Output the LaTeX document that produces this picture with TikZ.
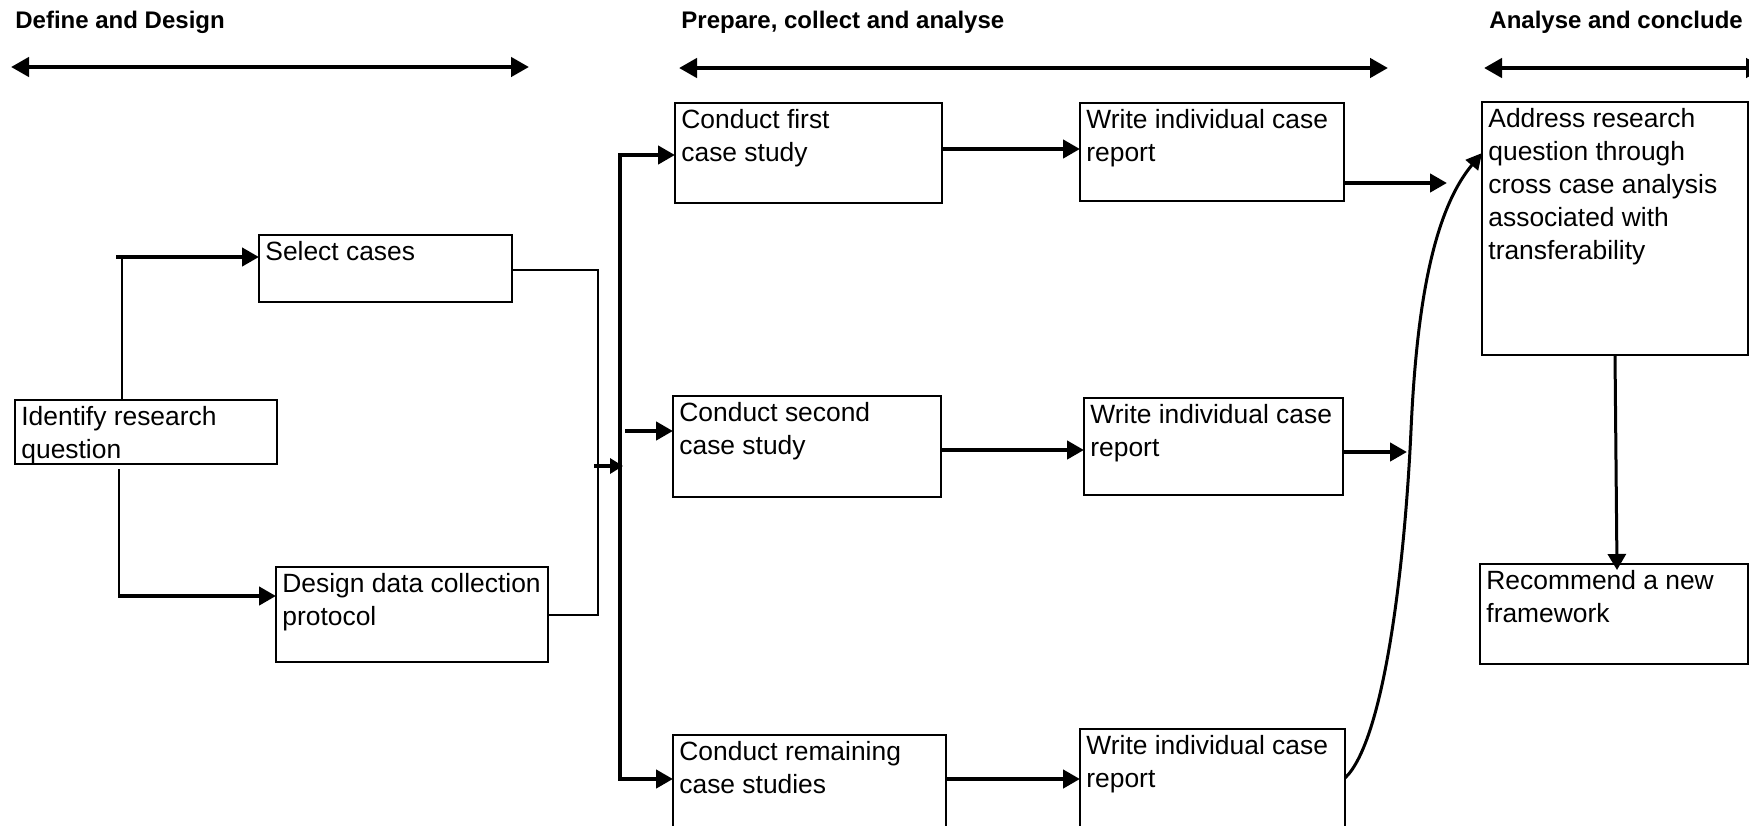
\documentclass[tikz,border=0pt]{standalone}
\usepackage{fontspec}
\setmainfont{Liberation Sans}
\usetikzlibrary{arrows.meta,fit}

% a framed step with its text set at the top left
\newcommand\stagebox[6]{%
  \node[box, fit={(#2,#3) (#4,#5)}] (#1) {};
  \node[txt] (#1-t) at ([xshift=3pt,yshift=-3pt]#1.north west) {#6};}

\begin{document}
\begin{tikzpicture}[x=0.5pt,y=-0.5pt,
  box/.style={draw, line width=0.9pt, inner sep=0pt, outer sep=0pt},
  txt/.style={anchor=north west, inner sep=0pt, align=left,
    font=\fontsize{13.2pt}{16.45pt}\selectfont},
  hdr/.style={anchor=base west, inner sep=0pt,
    font=\fontsize{12pt}{14pt}\selectfont\bfseries},
  phase/.style={line width=2.2pt, {Triangle[length=9pt,width=9.5pt]}-{Triangle[length=9pt,width=9.5pt]}},
  flow/.style={line width=2.2pt, -{Triangle[length=8.5pt,width=9pt]}},
  busline/.style={line width=2.2pt, line join=miter, {Triangle[length=8.5pt,width=9pt]}-{Triangle[length=8.5pt,width=9pt]}},
  feed/.style={line width=2pt, -{Triangle[length=6.5pt,width=7.5pt]}},
  link/.style={line width=0.9pt, line join=miter},
  stem/.style={line width=1.2pt},
  sweep/.style={line width=1.5pt, -{Triangle[length=8pt,width=8pt]}},
  drop/.style={line width=1.5pt, -{Triangle[length=8pt,width=9pt]}}]

\useasboundingbox (0,0) rectangle (1749,825);
\fill[white] (0,0) rectangle (1749,825);
\clip (0,0) rectangle (1749,825);

% phase headings and their spans
\node[hdr] (ph1) at (15,28) {Define and Design};
\node[hdr] (ph2) at (681,28) {Prepare, collect and analyse};
\node[hdr] (ph3) at (1489,28) {Analyse and conclude};
\coordinate (ph1l) at (11,67);   \coordinate (ph1r) at (529,67);
\coordinate (ph2l) at (679,68);  \coordinate (ph2r) at (1388,68);
\coordinate (ph3l) at (1484,68); \coordinate (ph3r) at (1764,68);
\draw[phase] (ph1l) -- (ph1r);
\draw[phase] (ph2l) -- (ph2r);
\draw[phase] (ph3l) -- (ph3r);

% define and design
\stagebox{idq}{15}{400}{277}{464}{Identify research\\question}
\stagebox{sel}{259}{235}{512}{302}{Select cases}
\stagebox{ddc}{276}{567}{548}{662}{Design data collection\\protocol}

% case studies
\stagebox{cf}{675}{103}{942}{203}{Conduct first\\case study}
\stagebox{cs}{673}{396}{941}{497}{Conduct second\\case study}
\stagebox{cr}{673}{735}{946}{840}{Conduct remaining\\case studies}

% individual reports
\stagebox{wa}{1080}{103}{1344}{201}{Write individual case\\report}
\stagebox{wb}{1084}{398}{1343}{495}{Write individual case\\report}
\stagebox{wc}{1080}{729}{1345}{840}{Write individual case\\report}

% conclusion
\stagebox{add}{1482}{102}{1748}{355}{Address research\\question through\\cross case analysis\\associated with\\transferability}
\stagebox{rec}{1480}{564}{1748}{664}{Recommend a new\\framework}

% question branches to the two design steps
\coordinate (qa) at (122,257);
\coordinate (qb) at (119,596);
\draw[stem] (idq.north -| qa) -- (qa);
\draw[flow] ([xshift=-3pt]qa) -- (sel.west |- qa);
\draw[stem] ([yshift=-2.5pt]idq.south -| qb) -- ([yshift=-1pt]qb);
\draw[flow] (qb) -- (ddc.west |- qb);

% design steps merge into the case-study bus
\coordinate (da) at (598,270);
\coordinate (db) at (598,615);
\draw[link] (sel.east |- da) -- (da) -- (db) -- (ddc.east |- db);
\coordinate (bt) at (620,155);
\coordinate (bb) at (620,779);
\coordinate (bm) at (594,466);
\draw[feed] (bm) -- ([xshift=1.5pt]bm -| bt);
\draw[busline] (cf.west |- bt) -- (bt) -- (bb) -- (cr.west |- bb);
\coordinate (cm) at (625,431);
\draw[flow] (cm) -- (cs.west |- cm);

% each case study feeds its report
\draw[flow] (cf.east |- 0,149) -- (wa.west |- 0,149);
\draw[flow] (cs.east |- 0,450) -- (wb.west |- 0,450);
\draw[flow] (cr.east |- 0,779) -- (wc.west |- 0,779);

% reports feed the cross case analysis
\coordinate (ra) at (1447,183);
\coordinate (rb) at (1407,452);
\draw[flow] (wa.east |- ra) -- (ra);
\draw[flow] (wb.east |- rb) -- (rb);
\draw[sweep] (wc.east |- 0,778) .. controls (1385,740) and (1405,560) .. (1411,430)
  .. controls (1416,320) and (1430,215) .. (add.west |- 0,153);

% analysis leads to the recommendation
\draw[drop] (add.south) -- ([xshift=1.5pt,yshift=-3pt]rec.north);
\end{tikzpicture}
\end{document}
